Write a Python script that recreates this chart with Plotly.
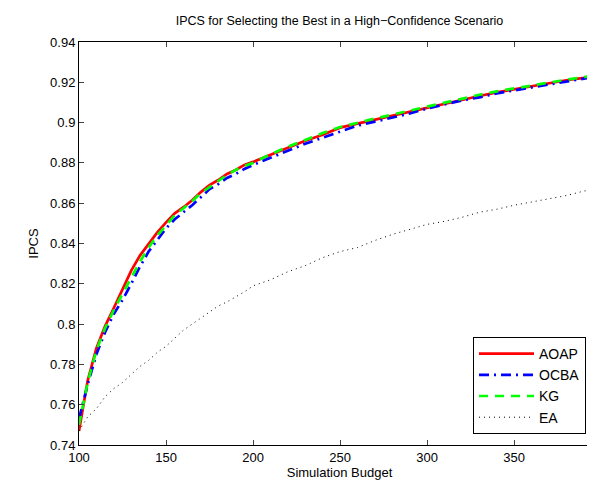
import plotly.graph_objects as go

budget = [100, 105, 110, 115, 120, 125, 130, 135, 140, 145, 150, 155, 160, 165, 170,
          175, 180, 185, 190, 195, 200, 210, 220, 230, 240, 250, 260, 270, 280, 290,
          300, 310, 320, 330, 340, 350, 360, 370, 380, 390, 400]

aoap = [0.747, 0.772, 0.788, 0.799, 0.808, 0.817, 0.8265, 0.834, 0.840, 0.8455, 0.8505,
        0.855, 0.858, 0.8615, 0.8655, 0.869, 0.8715, 0.8745, 0.8765, 0.879, 0.8805,
        0.884, 0.8875, 0.891, 0.894, 0.8975, 0.8995, 0.9015, 0.9035, 0.9055, 0.9075,
        0.9095, 0.9115, 0.9132, 0.915, 0.9165, 0.918, 0.9196, 0.921, 0.9222, 0.9236]

ocba = [0.753, 0.770, 0.785, 0.796, 0.805, 0.812, 0.820, 0.8285, 0.836, 0.842, 0.8475,
        0.852, 0.8555, 0.859, 0.863, 0.867, 0.8695, 0.8725, 0.8745, 0.877, 0.879,
        0.8825, 0.886, 0.8895, 0.8925, 0.8955, 0.8985, 0.9005, 0.9025, 0.9045, 0.907,
        0.909, 0.911, 0.9125, 0.9145, 0.916, 0.9175, 0.919, 0.9205, 0.922, 0.9233]

kg = [0.750, 0.771, 0.787, 0.798, 0.807, 0.815, 0.8235, 0.831, 0.838, 0.844, 0.849,
      0.854, 0.8575, 0.861, 0.865, 0.868, 0.871, 0.874, 0.8765, 0.8785, 0.880,
      0.8843, 0.888, 0.8915, 0.8948, 0.8978, 0.900, 0.902, 0.904, 0.906, 0.908,
      0.910, 0.912, 0.9138, 0.9155, 0.917, 0.9185, 0.920, 0.9213, 0.9225, 0.924]

ea = [0.747, 0.754, 0.758, 0.764, 0.768, 0.771, 0.775, 0.779, 0.782, 0.786, 0.789,
      0.793, 0.797, 0.800, 0.803, 0.806, 0.809, 0.811, 0.8135, 0.816, 0.819,
      0.822, 0.826, 0.829, 0.833, 0.836, 0.838, 0.8415, 0.8445, 0.847, 0.8495,
      0.851, 0.853, 0.8555, 0.857, 0.859, 0.8605, 0.862, 0.8638, 0.866, 0.8675]

x_ticks = [100, 150, 200, 250, 300, 350]
y_ticks = [0.74, 0.76, 0.78, 0.80, 0.82, 0.84, 0.86, 0.88, 0.90, 0.92, 0.94]
y_labels = ["0.74", "0.76", "0.78", "0.8", "0.82", "0.84", "0.86", "0.88", "0.9", "0.92", "0.94"]

FONT = "Liberation Sans, Arial, Helvetica, sans-serif"

fig = go.Figure()
fig.add_trace(go.Scatter(x=budget, y=aoap, name="AOAP", mode="lines",
                         line=dict(color="#ff0000", width=2.7, dash="solid")))
fig.add_trace(go.Scatter(x=budget, y=ocba, name="OCBA", mode="lines",
                         line=dict(color="#0000ff", width=2.7, dash="10px,5px,2px,5px")))
fig.add_trace(go.Scatter(x=budget, y=kg, name="KG", mode="lines",
                         line=dict(color="#00ff00", width=2.7, dash="9px,7px")))
fig.add_trace(go.Scatter(x=budget, y=ea, name="EA", mode="lines",
                         line=dict(color="#000000", width=1, dash="1px,4px")))

fig.update_layout(
    width=595, height=481,
    margin=dict(l=71, r=3, t=34, b=44, autoexpand=False),
    paper_bgcolor="white", plot_bgcolor="white",
    font=dict(family=FONT, size=13, color="black"),
    title=dict(text="IPCS for Selecting the Best in a High\u2212Confidence Scenario",
               x=(71 + 592) / 2 / 595, xanchor="center", y=1 - 13 / 481, yanchor="middle",
               font=dict(size=12.5)),
    showlegend=True,
    legend=dict(x=(578 - 71) / 521, xanchor="right", y=(437 - 426) / 403, yanchor="bottom",
                bordercolor="black", borderwidth=1, bgcolor="white",
                font=dict(size=14), itemwidth=55, tracegroupgap=0),
)
fig.update_xaxes(range=[100, 399.3], tickvals=x_ticks, ticks="inside", ticklen=5,
                 showline=True, linecolor="black", linewidth=1, mirror="ticks",
                 showgrid=False, zeroline=False, tickfont=dict(size=13),
                 title=dict(text="Simulation Budget", font=dict(size=13), standoff=2))
fig.update_yaxes(range=[0.74, 0.94], tickvals=y_ticks, ticktext=y_labels, ticks="inside",
                 ticklen=5, showline=True, linecolor="black", linewidth=1, mirror="ticks",
                 showgrid=False, zeroline=False, tickfont=dict(size=13),
                 title=dict(text="IPCS", font=dict(size=13), standoff=8))

fig.write_html("out.html")
